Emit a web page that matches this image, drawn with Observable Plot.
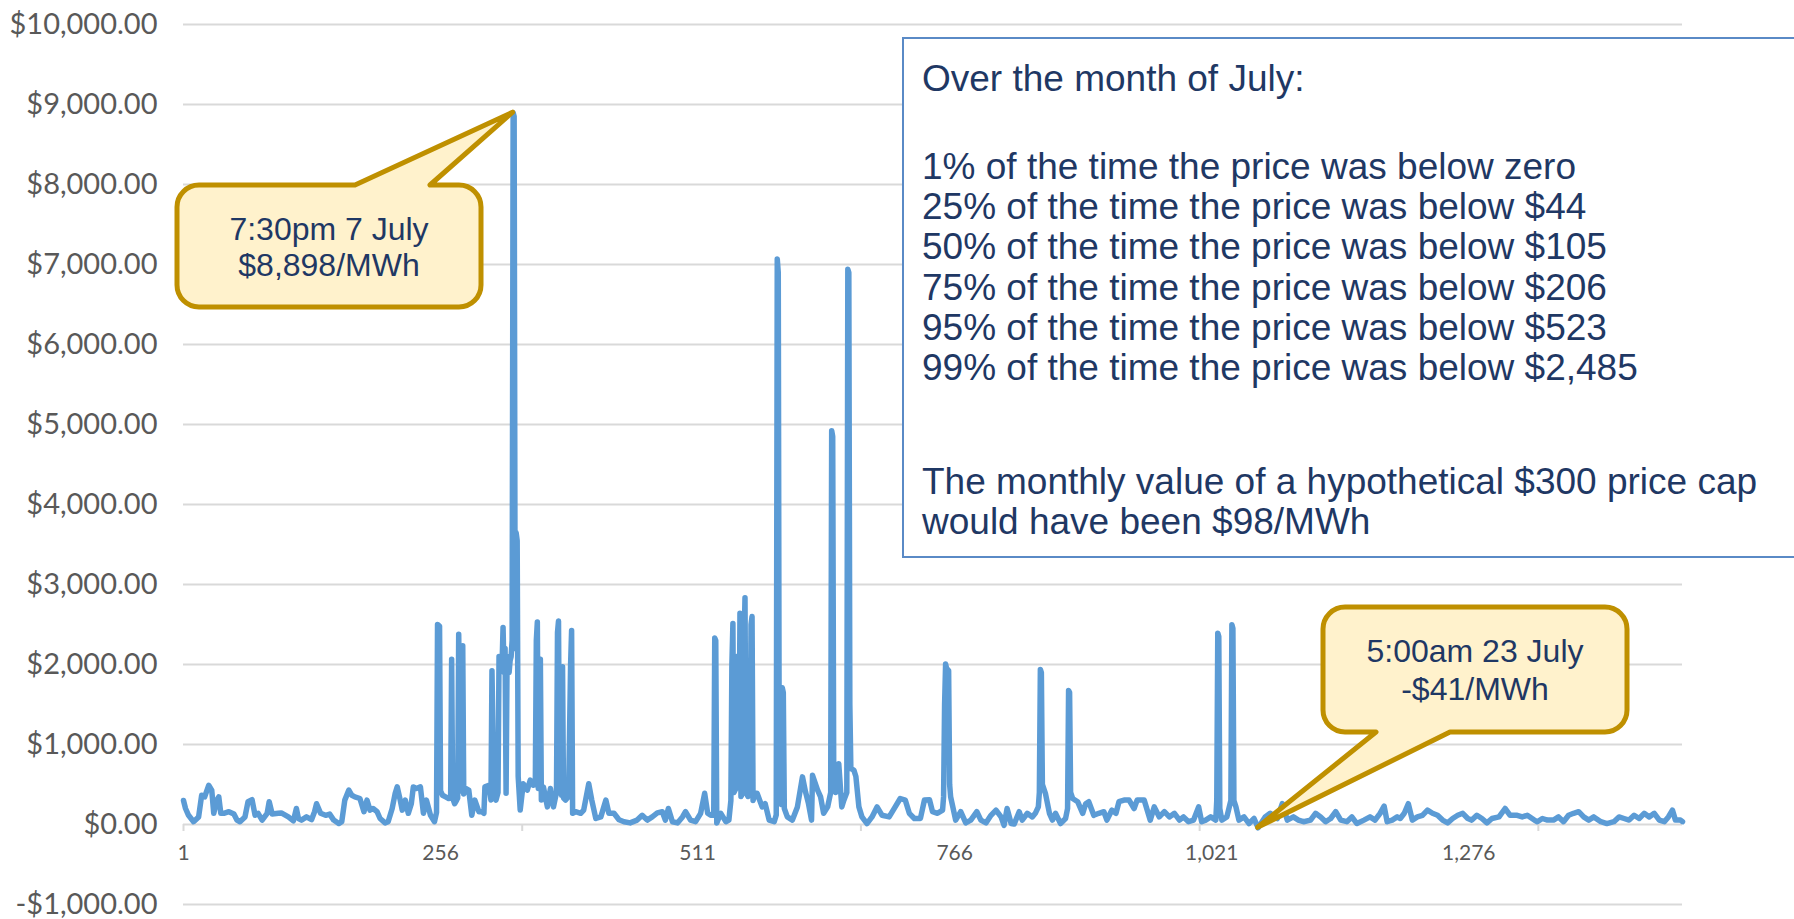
<!DOCTYPE html>
<html>
<head>
<meta charset="utf-8">
<script src="https://cdn.jsdelivr.net/npm/d3@7"></script>
<script src="https://cdn.jsdelivr.net/npm/@observablehq/plot@0.6"></script>
<style>
  html, body { margin: 0; padding: 0; background: #ffffff; overflow: hidden; }
  #chart { position: relative; width: 1794px; height: 919px; }
</style>
</head>
<body>
<div id="chart"></div>
<script>
// ---- Data: half-hourly price (interval index, $/MWh) ----
const week1 = [[1,300],[3,200],[6,115],[11,35],[16,95],[19,365],[22,345],[26,490],[29,430],[31,140],[34,305],[36,345],[38,140],[41,140],[46,160],[51,130],[54,55],[57,35],[62,95],[65,285],[69,310],[72,115],[75,140],[79,55],[84,140],[86,285],[89,130],[95,140],[98,145],[105,95],[110,45],[113,200],[115,75],[118,55],[123,95],[128,60],[131,160],[133,260],[137,140],[142,115],[146,130],[150,55],[155,12],[158,35],[161,305],[165,430],[168,365],[171,345],[176,325],[180,160],[183,305],[186,180],[189,200],[193,160],[196,75],[201,20],[204,35],[208,200],[211,390],[213,470],[216,305],[218,180],[221,305],[224,140],[227,260],[229,470],[232,450],[236,470],[239,140],[242,305],[246,115],[250,35],[252,150],[253,2500],[255,2480],[256,420],[258,365],[261,345],[264,325],[266,330],[267,2067],[268,330],[270,260],[272,305],[273,330],[274,2378],[276,420],[278,2234],[279,380],[281,450],[284,430],[287,115],[290,305],[294,160],[297,160],[299,140],[300,470],[304,490],[306,305],[307,1923],[309,340],[311,305],[313,400],[314,2100],[315,1950],[317,2000],[318,2464],[319,1900],[320,2200],[321,390],[322,2100],[324,1900],[325,2050],[326,2100],[327,2300],[328,8898],[329,8850],[330,2200],[331,3646],[332,3550],[333,600],[335,180]];
const week2 = [[338,510],[342,430],[345,555],[348,490],[350,500],[351,2300],[352,2530],[353,450],[355,2067],[356,305],[358,470],[362,220],[365,450],[368,220],[371,400],[372,2400],[373,2545],[374,500],[376,365],[377,1971],[378,330],[380,305],[383,350],[385,2000],[386,2426],[387,140],[390,160],[395,140],[398,180],[403,510],[406,305],[410,75],[415,95],[420,305],[423,140],[428,140],[433,60],[438,35],[444,20],[451,55],[456,115],[461,55],[466,95],[471,145],[476,160],[479,55],[482,200],[486,35],[491,20],[496,95],[499,160],[504,55],[509,35],[514,140],[518,390],[521,140],[524,115],[527,120],[528,2330],[529,2300],[530,20],[534,140],[539,35],[542,55],[544,300],[545,2000],[546,2512],[547,400],[549,450],[550,2100],[552,500],[553,2641],[554,350],[556,400],[557,2200],[558,2833],[559,400],[561,350],[563,500],[564,2500],[565,2600],[566,300],[568,390],[570,390],[575,220],[578,260],[582,55],[587,35],[589,120],[590,7070],[591,6900],[592,300],[594,250],[595,1708],[596,1650],[597,200],[600,95],[605,55],[610,220],[615,595],[618,410],[621,260],[624,55],[625,615],[630,430],[633,345],[636,140],[640,220],[643,400],[644,4923],[645,4850],[646,700],[648,400],[651,760],[654,220],[656,300],[659,400],[660,6940],[661,6900],[662,1500],[663,700],[666,680],[668,600],[671,220]];
const week3 = [[674,95],[679,12],[684,95],[689,220],[694,115],[701,95],[707,220],[712,325],[717,305],[721,140],[726,75],[732,75],[736,305],[741,310],[744,160],[749,140],[754,180],[755,345],[756,1500],[757,2005],[758,1950],[760,1923],[761,500],[762,345],[767,55],[772,160],[777,20],[782,55],[788,160],[792,55],[797,20],[802,115],[807,180],[812,95],[815,-10],[818,200],[822,12],[825,5],[830,160],[833,55],[838,140],[843,95],[846,140],[849,220],[850,400],[851,1938],[852,1900],[853,500],[856,390],[860,140],[863,55],[866,140],[871,12],[876,75],[878,200],[879,1675],[880,1650],[881,400],[883,325],[888,285],[893,140],[896,260],[899,285],[904,115],[909,140],[914,160],[917,55],[922,180],[926,140],[929,285],[934,305],[939,305],[944,200],[947,305],[954,305],[960,55],[964,220],[969,95],[974,160],[979,95],[984,140],[989,55],[993,95],[998,35],[1003,55],[1008,220]];
const week4 = [[1011,35],[1015,55],[1020,95],[1025,55],[1026,300],[1027,2392],[1028,2350],[1029,200],[1031,55],[1036,95],[1040,300],[1041,2498],[1042,2450],[1043,300],[1045,220],[1048,55],[1053,95],[1058,12],[1063,75],[1067,-41],[1074,95],[1079,140],[1086,75],[1091,260],[1096,55],[1102,95],[1107,55],[1112,35],[1119,55],[1124,140],[1129,95],[1134,35],[1139,75],[1144,160],[1149,55],[1155,35],[1160,95],[1165,12],[1172,55],[1178,95],[1183,55],[1188,140],[1192,230],[1195,35],[1200,55],[1205,95],[1208,75],[1212,140],[1216,260],[1220,55],[1225,95],[1230,115],[1235,180],[1240,140],[1245,115],[1250,55],[1255,20],[1260,75],[1265,115],[1270,140],[1275,75],[1279,55],[1284,115],[1289,75],[1294,20],[1299,75],[1306,95],[1312,200],[1317,115],[1324,115],[1329,95],[1334,115],[1341,55],[1344,35]];
const week5 = [[1349,75],[1354,55],[1360,55],[1365,95],[1370,35],[1375,115],[1380,140],[1385,160],[1390,95],[1395,55],[1400,95],[1407,35],[1413,12],[1420,35],[1425,95],[1430,75],[1435,55],[1440,115],[1445,75],[1450,140],[1455,95],[1460,140],[1465,55],[1470,35],[1474,95],[1478,180],[1481,55],[1486,55],[1488,35]];

const yTicks = [-1000, 0, 1000, 2000, 3000, 4000, 5000, 6000, 7000, 8000, 9000, 10000];
const xTickLabels = [1, 256, 511, 766, 1021, 1276];
const xTickMarks = [1, 337, 673, 1009, 1345];

const noteLines = [
  "Over the month of July:",
  "1% of the time the price was below zero",
  "25% of the time the price was below $44",
  "50% of the time the price was below $105",
  "75% of the time the price was below $206",
  "95% of the time the price was below $523",
  "99% of the time the price was below $2,485",
  "The monthly value of a hypothetical $300 price cap",
  "would have been $98/MWh"
];
const peakCallout = {idx: 328, price: 8898, lines: ["7:30pm 7 July", "$8,898/MWh"]};
const lowCallout = {idx: 1067, price: -41, lines: ["5:00am 23 July", "-$41/MWh"]};

// ---- Build ----
const series = [...week1, ...week2, ...week3, ...week4, ...week5].map(([idx, price]) => ({idx, price}));

const W = 1794, H = 919;
const mL = 183, mR = 112, mT = 24, mB = 15;
const yPerPx = (10000 - (-1000)) / (H - mT - mB);

const fmtY = d => (d < 0 ? "-" : "") + "$" + d3.format(",.2f")(Math.abs(d));
const fmtX = d3.format(",");

const chart = Plot.plot({
  width: W, height: H,
  marginLeft: mL, marginRight: mR, marginTop: mT, marginBottom: mB,
  x: {domain: [1, 1488], axis: null},
  y: {domain: [-1000, 10000], axis: null},
  style: {background: "transparent", fontFamily: "Lato, sans-serif", overflow: "visible"},
  marks: [
    Plot.gridY(yTicks, {stroke: "#d9d9d9", strokeOpacity: 1, strokeWidth: 1.8}),
    Plot.axisY(yTicks, {tickSize: 0, tickPadding: 26, tickFormat: fmtY, fontSize: 29, fontFamily: "Lato, sans-serif", color: "#595959", label: null}),
    Plot.ruleX(xTickMarks, {x: d => d, y1: 0, y2: -7 * yPerPx, stroke: "#d9d9d9", strokeWidth: 2}),
    Plot.text(xTickLabels, {x: d => d, y: 0, text: d => fmtX(d), dy: 29, fontSize: 21, fontFamily: "Lato, sans-serif", fill: "#595959"}),
    Plot.line(series, {x: "idx", y: "price", stroke: "#5B9BD5", strokeWidth: 5.5, strokeLinejoin: "round", strokeLinecap: "round"})
  ]
});
document.getElementById("chart").appendChild(chart);

const sx = chart.scale("x"), sy = chart.scale("y");
const svg = d3.select(chart);
const ink = "#1F3864";

// Summary box
const g = svg.append("g").attr("text-anchor", "start");
g.append("rect").attr("x", 903).attr("y", 38).attr("width", 960).attr("height", 519)
  .attr("fill", "#ffffff").attr("stroke", "#5A8AC6").attr("stroke-width", 2);
const noteBaselines = [91, 179, 219, 259, 300, 340, 380, 494, 534];
g.selectAll("text.note").data(noteLines).join("text")
  .attr("class", "note")
  .attr("x", 922).attr("y", (d, i) => noteBaselines[i])
  .attr("text-anchor", "start")
  .attr("fill", ink).attr("font-family", "Liberation Sans, Arial, sans-serif").attr("font-size", 37)
  .text(d => d);

// Callouts
function calloutPath(b, tip, side) {
  const {x0, y0, x1, y1, r, b1, b2} = b;
  if (side === "top") {
    return `M${x0 + r},${y0} L${b1},${y0} L${tip[0]},${tip[1]} L${b2},${y0} L${x1 - r},${y0} A${r},${r} 0 0 1 ${x1},${y0 + r} L${x1},${y1 - r} A${r},${r} 0 0 1 ${x1 - r},${y1} L${x0 + r},${y1} A${r},${r} 0 0 1 ${x0},${y1 - r} L${x0},${y0 + r} A${r},${r} 0 0 1 ${x0 + r},${y0} Z`;
  }
  return `M${x0 + r},${y0} L${x1 - r},${y0} A${r},${r} 0 0 1 ${x1},${y0 + r} L${x1},${y1 - r} A${r},${r} 0 0 1 ${x1 - r},${y1} L${b2},${y1} L${tip[0]},${tip[1]} L${b1},${y1} L${x0 + r},${y1} A${r},${r} 0 0 1 ${x0},${y1 - r} L${x0},${y0 + r} A${r},${r} 0 0 1 ${x0 + r},${y0} Z`;
}
function drawCallout(c, box, side, baselines) {
  const tip = [sx.apply(c.idx), sy.apply(c.price)];
  const cg = svg.append("g");
  cg.append("path").attr("d", calloutPath(box, tip, side))
    .attr("fill", "#FFF2CC").attr("stroke", "#BF9000").attr("stroke-width", 5).attr("stroke-linejoin", "round");
  const cx = (box.x0 + box.x1) / 2;
  cg.selectAll("text").data(c.lines).join("text")
    .attr("x", cx).attr("y", (d, i) => baselines[i])
    .attr("text-anchor", "middle").attr("fill", ink)
    .attr("font-family", "Liberation Sans, Arial, sans-serif").attr("font-size", 32)
    .text(d => d);
}
drawCallout(peakCallout, {x0: 177, y0: 185, x1: 481, y1: 307, r: 22, b1: 355, b2: 430}, "top", [240, 276]);
drawCallout(lowCallout, {x0: 1323, y0: 607, x1: 1627, y1: 732, r: 22, b1: 1376, b2: 1450}, "bottom", [662, 700]);
</script>
</body>
</html>
